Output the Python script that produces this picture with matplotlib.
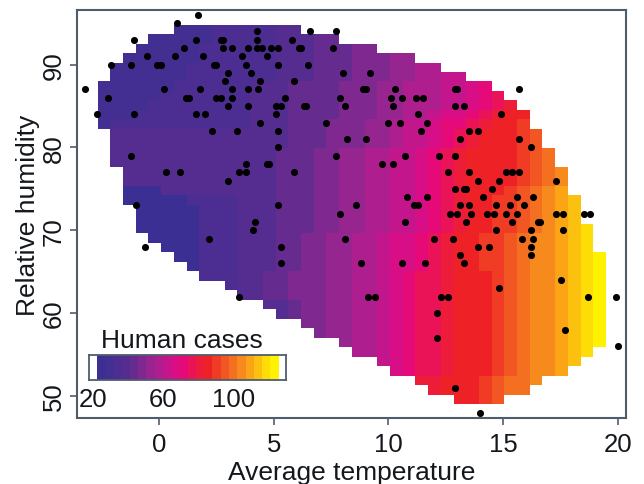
import numpy as np
import matplotlib
matplotlib.use("Agg")
import matplotlib.pyplot as plt
from matplotlib.colors import ListedColormap, BoundaryNorm

plt.rcParams['font.family'] = ['Liberation Sans', 'DejaVu Sans']

# colour levels of the map, low to high
level_colors = ['#3b2f93', '#432e92', '#4c2d91', '#552c90', '#662b8f', '#7f2890',
                '#962590', '#ae1e8f', '#c4168c', '#d80e86', '#e60a78', '#ea1358',
                '#ed1c38', '#ee2226', '#f03c24', '#f25622', '#f47020', '#f78a1c',
                '#faa416', '#fcc00e', '#fedc06', '#fff200']
# case value at which each level starts in the legend
level_values = [22.0, 26.7, 31.4, 36.1, 40.8, 45.5, 50.2, 54.9, 59.6, 64.3, 69.0,
                73.7, 78.4, 83.1, 87.8, 92.5, 97.2, 101.9, 106.6, 111.3, 116.0, 120.7]
legend_top = 125.4

# filled columns [first, last) of each of the 40 grid rows, top row first
row_first = [6, 4, 3, 2, 1, 1, 0, 0, 0, 0, 0, 1, 1, 1, 1, 2, 2, 2, 2, 3,
             3, 3, 4, 5, 6, 7, 8, 10, 11, 13, 14, 16, 17, 19, 20, 22, 23, 25, 26, 28]
row_last = [16, 19, 22, 25, 27, 29, 31, 32, 33, 34, 34, 35, 35, 36, 36, 37, 37, 37, 38, 38,
            38, 39, 39, 39, 40, 40, 40, 40, 40, 40, 40, 40, 40, 40, 39, 38, 37, 35, 34, 32]

# (first row, last row, [(start column, level), ...])
band_groups = [
    (0, 1, [(0, 1), (9, 2), (14, 3), (17, 4)]),
    (2, 3, [(0, 1), (8, 2), (14, 3), (17, 4), (20, 5), (23, 6)]),
    (4, 5, [(0, 1), (7, 2), (14, 3), (17, 4), (20, 5), (23, 6), (25, 7), (27, 8)]),
    (6, 6, [(0, 1), (6, 2), (12, 3), (15, 4), (19, 5), (22, 6), (24, 7), (27, 8), (29, 9), (30, 10)]),
    (7, 7, [(0, 1), (5, 2), (12, 3), (15, 4), (19, 5), (22, 6), (24, 7), (27, 8), (29, 9), (30, 10), (31, 11)]),
    (8, 8, [(0, 1), (4, 2), (12, 3), (15, 4), (19, 5), (22, 6), (24, 7), (27, 8), (29, 9), (30, 10), (31, 11), (32, 12)]),
    (9, 9, [(0, 1), (3, 2), (12, 3), (15, 4), (19, 5), (22, 6), (24, 7), (26, 8), (27, 9), (29, 10), (30, 11), (31, 12), (32, 13)]),
    (10, 10, [(0, 1), (1, 2), (12, 3), (15, 4), (18, 5), (21, 6), (23, 7), (24, 8), (26, 9), (27, 10), (29, 11), (30, 12), (31, 13), (33, 14)]),
    (11, 12, [(0, 3), (15, 4), (18, 5), (21, 6), (23, 7), (24, 8), (26, 9), (27, 10), (28, 11), (29, 12), (30, 13), (33, 14), (34, 15)]),
    (13, 16, [(0, 3), (14, 4), (17, 5), (19, 6), (21, 7), (23, 8), (25, 9), (26, 10), (27, 11), (28, 12), (29, 13), (33, 14), (34, 15), (35, 16), (36, 17)]),
    (17, 17, [(0, 0), (5, 3), (14, 4), (17, 5), (19, 6), (21, 7), (23, 8), (25, 9), (26, 10), (27, 11), (28, 12), (29, 13), (32, 14), (33, 15), (34, 16), (35, 17), (36, 18)]),
    (18, 18, [(0, 0), (7, 2), (11, 3), (14, 4), (17, 5), (19, 6), (21, 7), (23, 8), (25, 9), (26, 10), (27, 11), (28, 12), (29, 13), (31, 14), (33, 15), (34, 16), (35, 17), (36, 18), (37, 19)]),
    (19, 21, [(0, 0), (8, 2), (11, 3), (14, 4), (17, 5), (19, 6), (21, 7), (23, 8), (25, 9), (26, 10), (27, 11), (28, 12), (29, 13), (31, 14), (33, 15), (34, 16), (35, 17), (36, 18), (37, 19), (38, 20)]),
    (22, 25, [(0, 0), (8, 2), (11, 3), (14, 4), (16, 5), (18, 6), (20, 7), (22, 8), (23, 9), (25, 10), (26, 11), (27, 12), (28, 13), (30, 14), (32, 15), (33, 16), (34, 17), (36, 18), (37, 19), (38, 20), (39, 21)]),
    (26, 28, [(0, 2), (11, 3), (13, 4), (15, 5), (18, 6), (20, 7), (22, 8), (23, 9), (24, 10), (25, 11), (27, 12), (28, 13), (31, 14), (32, 15), (33, 16), (34, 17), (36, 18), (37, 19), (38, 20), (39, 21)]),
    (29, 33, [(0, 3), (15, 4), (16, 5), (18, 6), (20, 7), (22, 8), (23, 9), (24, 10), (25, 11), (27, 12), (28, 13), (31, 14), (32, 15), (33, 16), (34, 17), (36, 18), (37, 19), (38, 20), (39, 21)]),
    (34, 36, [(20, 7), (22, 8), (23, 9), (24, 10), (25, 11), (27, 12), (28, 13), (31, 14), (32, 15), (33, 16), (34, 17), (36, 18), (37, 19), (38, 20)]),
    (37, 39, [(25, 12), (27, 13), (30, 14), (31, 15), (32, 16), (34, 17)]),
]

# observed sites: temperatures at each integer relative humidity
sites = {
    96: [1.7], 95: [0.8], 94: [4.28, 6.6, 7.7],
    93: [-1.1, 1.6, 2.7, 2.8, 4.28, 5.8],
    92: [1.1, 2.8, 3.2, 3.9, 4.28, 4.5, 4.9, 5.2, 6.1, 6.2, 7.6],
    91: [-0.5, 0.7, 1.9, 3.6, 4.7],
    90: [-2.1, -1.2, -0.1, 0.1, 2.4, 2.5, 3.8, 5.2, 6.5],
    89: [3.0, 4.0, 8.0, 9.2], 88: [2.9, 4.4, 5.9],
    87: [-3.2, 0.2, 1.8, 3.2, 3.9, 4.3, 8.9, 9.0, 10.3, 12.9, 13.0, 15.7],
    86: [-2.2, 1.2, 1.3, 2.5, 2.7, 3.2, 5.5, 7.9, 10.1, 10.6, 11.2, 11.5],
    85: [3.0, 3.9, 5.1, 5.3, 6.3, 6.4, 8.1, 10.2, 12.9, 13.3],
    84: [-2.7, -1.1, 1.6, 2.0, 5.1, 11.3, 14.9],
    83: [4.4, 7.3, 10.0, 10.5, 11.7],
    82: [2.3, 3.4, 5.2, 11.4, 13.5, 13.9],
    81: [8.2, 9.0, 13.1, 15.7], 80: [5.2, 16.2],
    79: [-1.2, 7.7, 10.7, 12.2, 12.9],
    78: [3.8, 4.7, 4.8, 9.7, 10.2],
    77: [0.3, 0.9, 3.5, 3.8, 5.9, 12.6, 13.5, 15.1, 15.4, 15.7],
    76: [3.0, 13.9, 14.8, 17.3],
    75: [12.9, 13.3, 13.4, 14.5],
    74: [10.8, 11.7, 14.1, 15.6, 16.3],
    73: [-1.0, 5.2, 8.6, 11.1, 11.3, 13.1, 13.5, 14.7, 15.3, 15.9],
    72: [7.9, 12.7, 13.0, 13.6, 14.3, 14.6, 15.1, 15.6, 17.3, 17.6, 18.5, 18.8],
    71: [4.2, 10.7, 13.4, 15.4, 16.5, 16.6],
    70: [4.1, 14.7, 16.2, 17.6],
    69: [2.2, 8.1, 12.0, 12.8, 15.8, 16.3],
    68: [-0.6, 5.3, 13.9, 14.4, 16.2],
    67: [13.1, 16.2],
    66: [5.3, 8.8, 10.6, 11.6, 13.3],
    64: [17.5], 63: [14.8],
    62: [3.5, 9.1, 9.4, 12.3, 12.6, 18.7, 19.9],
    60: [12.1], 58: [17.7], 57: [12.1], 56: [20.0], 51: [12.9], 48: [14.0],
}

x_ticks = [0, 5, 10, 15, 20]
y_ticks = [50, 60, 70, 80, 90]
legend_ticks = [20, 60, 100]

W, H = 644, 485
AXC = '#4f5d6b'
TXT = '#14181d'
fig = plt.figure(figsize=(W / 100, H / 100), dpi=100)


def px_axes(l, t, r, b):
    return fig.add_axes([l / W, 1 - b / H, (r - l) / W, (b - t) / H])


ax = px_axes(77, 11, 626, 419)
ax.set_xlim(-3.57, 20.35)
ax.set_ylim(47.34, 96.59)

# fill the grid
grid = np.full((40, 40), np.nan)
for r0, r1, bands in band_groups:
    for r in range(r0, r1 + 1):
        for i, (start, lev) in enumerate(bands):
            stop = bands[i + 1][0] if i + 1 < len(bands) else 40
            a = max(start, row_first[r])
            b = min(stop, row_last[r])
            if b > a:
                grid[r, a:b] = lev

cmap = ListedColormap(level_colors)
norm = BoundaryNorm(np.arange(-0.5, len(level_colors)), cmap.N)
xe = np.linspace(-2.67, 19.48, 41)
ye = np.linspace(94.83, 49.03, 41)
ax.pcolormesh(xe, ye, np.ma.masked_invalid(grid), cmap=cmap, norm=norm, linewidth=0, antialiased=False, zorder=1)

tx = [t for h, ts in sites.items() for t in ts]
hy = [h for h, ts in sites.items() for t in ts]
ax.scatter(tx, hy, s=26, c='black', linewidths=0, zorder=3, clip_on=False)

ax.set_xticks(x_ticks)
ax.set_yticks(y_ticks)
ax.tick_params(axis='x', length=5, width=1.2, color=AXC, labelsize=18.5, pad=5, labelcolor=TXT)
ax.tick_params(axis='y', length=5, width=1.2, color=AXC, labelsize=18.5, pad=3, labelcolor=TXT)
for lab in ax.get_yticklabels():
    lab.set_rotation(90)
    lab.set_va('center')
for s in ax.spines.values():
    s.set_color(AXC)
    s.set_linewidth(1.5)
ax.set_xlabel('Average temperature', fontsize=19, color=TXT, labelpad=3)
ax.set_ylabel('Relative humidity', fontsize=19, color=TXT, labelpad=1)

# legend
leg = px_axes(89, 356, 286, 381)
v = lambda px: 20 + (px - 93) * 40 / 70.5
leg.set_xlim(v(89), v(286))
leg.set_ylim(0, 1)
edges = level_values + [legend_top]
leg.pcolormesh(edges, [0, 1], [list(range(len(level_colors)))], cmap=cmap, norm=norm, linewidth=0, antialiased=False)
leg.set_xticks(legend_ticks)
leg.set_yticks([])
leg.tick_params(axis='x', length=0, labelsize=18.5, pad=5, labelcolor=TXT)
for s in leg.spines.values():
    s.set_color(AXC)
    s.set_linewidth(1.3)
fig.text(101 / W, 1 - 348 / H, 'Human cases', fontsize=19, color=TXT, ha='left', va='baseline')

fig.savefig('out.png', dpi=100)
